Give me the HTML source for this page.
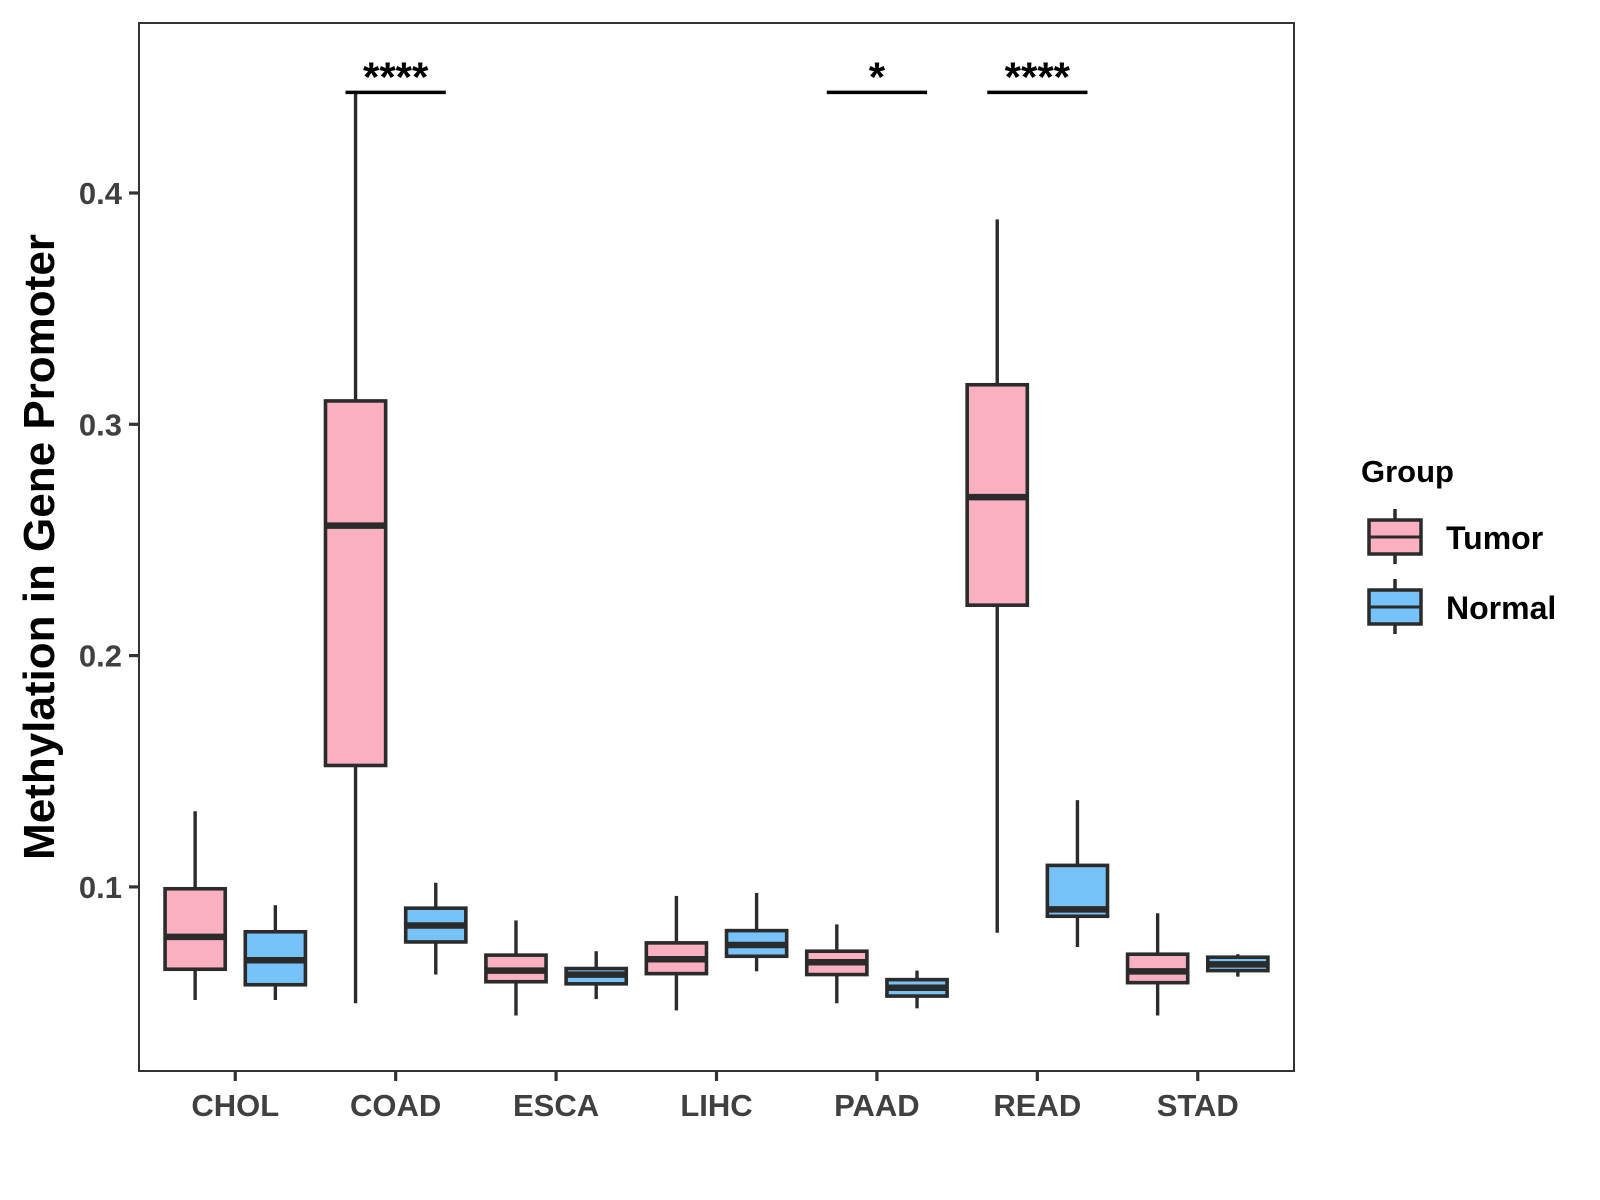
<!DOCTYPE html>
<html><head><meta charset="utf-8"><style>
html,body{margin:0;padding:0;background:#fff;}
svg{display:block;font-family:"Liberation Sans",Arial,sans-serif;}
</style></head><body>
<svg id="chart" width="1600" height="1200" viewBox="0 0 1600 1200" xmlns="http://www.w3.org/2000/svg">
<rect x="0" y="0" width="1600" height="1200" fill="#fff"/>
<g id="marks"></g>
<rect x="139" y="23" width="1155" height="1048" fill="none" stroke="#333" stroke-width="2"/>
<g id="axes"></g>
<text x="54" y="547" transform="rotate(-90 54 547)" text-anchor="middle" font-size="44" font-weight="bold" fill="#000">Methylation in Gene Promoter</text>
<g>
<text x="1361" y="482" font-size="31" font-weight="bold" fill="#000">Group</text>
<g>
<line x1="1395" y1="509" x2="1395" y2="564" stroke="#2b2b2b" stroke-width="3.5"/>
<rect x="1369" y="520" width="52" height="34" fill="#FBB0C1" stroke="#2b2b2b" stroke-width="3.5"/>
<line x1="1369" y1="537" x2="1421" y2="537" stroke="#2b2b2b" stroke-width="3"/>
<text x="1446" y="549" font-size="32" font-weight="bold" fill="#000">Tumor</text>
</g>
<g>
<line x1="1395" y1="579" x2="1395" y2="634" stroke="#2b2b2b" stroke-width="3.5"/>
<rect x="1369" y="590" width="52" height="34" fill="#77C2F9" stroke="#2b2b2b" stroke-width="3.5"/>
<line x1="1369" y1="607" x2="1421" y2="607" stroke="#2b2b2b" stroke-width="3"/>
<text x="1446" y="619" font-size="32" font-weight="bold" fill="#000">Normal</text>
</g>
</g>
</svg>
<script>
const categories = ["CHOL","COAD","ESCA","LIHC","PAAD","READ","STAD"];
// [min, q1, median, q3, max]
const tumorStats = [
  [0.0511,0.0644,0.0784,0.0992,0.1327],
  [0.0497,0.1525,0.2562,0.3101,0.4433],
  [0.0444,0.0590,0.0638,0.0705,0.0855],
  [0.0466,0.0625,0.0687,0.0758,0.0961],
  [0.0497,0.0621,0.0674,0.0722,0.0838],
  [0.0802,0.2218,0.2685,0.3171,0.3886],
  [0.0444,0.0586,0.0635,0.0709,0.0886]
];
const normalStats = [
  [0.0511,0.0577,0.0683,0.0806,0.0921],
  [0.0621,0.0762,0.0833,0.0908,0.1018],
  [0.0515,0.0581,0.0621,0.0647,0.0722],
  [0.0635,0.0700,0.0749,0.0811,0.0974],
  [0.0475,0.0528,0.0564,0.0599,0.0638],
  [0.0740,0.0873,0.0903,0.1093,0.1375],
  [0.0612,0.0638,0.0665,0.0696,0.0709]
];
const yTicks = [0.1,0.2,0.3,0.4];
const yTickLabels = ["0.1","0.2","0.3","0.4"];
const sigCategories = ["COAD","PAAD","READ"];
const sigLabels = ["****","*","****"];
const sigLevel = 0.4435;

const NS="http://www.w3.org/2000/svg";
const PL=139, PR=1294, PT=23, PB=1071;
const Y0=0.4, Y0PX=193, PXPER=2313;
function yScale(v){ return Y0PX + (Y0 - v)*PXPER; }
const band=(PR-PL)/(categories.length-1+1.2);
function xScale(i){ return PL + (0.6+i)*band; }
function mk(tag, attrs, parent){ const e=document.createElementNS(NS,tag); for(const k in attrs) e.setAttribute(k,attrs[k]); parent.appendChild(e); return e; }

const marks=document.getElementById('marks');
const axes=document.getElementById('axes');
const stroke="#2b2b2b";
function drawBox(cx, s, fill, name){
  const g=mk('g',{},marks);
  
  
  const w=0.375*band;
  mk('line',{x1:cx,x2:cx,y1:yScale(s[4]),y2:yScale(s[3]),stroke:stroke,'stroke-width':3.4},g);
  mk('line',{x1:cx,x2:cx,y1:yScale(s[1]),y2:yScale(s[0]),stroke:stroke,'stroke-width':3.4},g);
  mk('rect',{x:cx-w/2,y:yScale(s[3]),width:w,height:yScale(s[1])-yScale(s[3]),fill:fill,stroke:stroke,'stroke-width':3.6},g);
  mk('line',{x1:cx-w/2,x2:cx+w/2,y1:yScale(s[2]),y2:yScale(s[2]),stroke:stroke,'stroke-width':6.5},g);
}
categories.forEach((c,i)=>{
  const cx=xScale(i);
  drawBox(cx-0.25*band, tumorStats[i], "#FBB0C1", "box-tumor-"+c.toLowerCase());
  drawBox(cx+0.25*band, normalStats[i], "#77C2F9", "box-normal-"+c.toLowerCase());
  const t=mk('line',{x1:cx,x2:cx,y1:PB,y2:PB+10,stroke:"#333",'stroke-width':3.2},axes);
  
  
  const lb=mk('text',{x:cx,y:1116,'text-anchor':'middle','font-size':31,'font-weight':'bold',fill:'#404040'},axes);
  lb.textContent=c;
  
  
});
yTicks.forEach((v,i)=>{
  const y=yScale(v);
  const t=mk('line',{x1:PL-10,x2:PL,y1:y,y2:y,stroke:"#333",'stroke-width':3.2},axes);
  
  
  const lb=mk('text',{x:PL-17,y:y+11,'text-anchor':'end','font-size':31,'font-weight':'bold',fill:'#404040'},axes);
  lb.textContent=yTickLabels[i];
  
  
});
sigCategories.forEach((c,k)=>{
  const i=categories.indexOf(c);
  const cx=xScale(i);
  const y=yScale(sigLevel);
  const ln=mk('line',{x1:cx-0.3125*band,x2:cx+0.3125*band,y1:y,y2:y,stroke:"#000",'stroke-width':3.4},marks);
  
  
  const tx=mk('text',{x:cx,y:y-1,'text-anchor':'middle','font-size':42,'font-weight':'bold',fill:'#000'},marks);
  tx.textContent=sigLabels[k];
  
  
});
</script>
</body></html>
